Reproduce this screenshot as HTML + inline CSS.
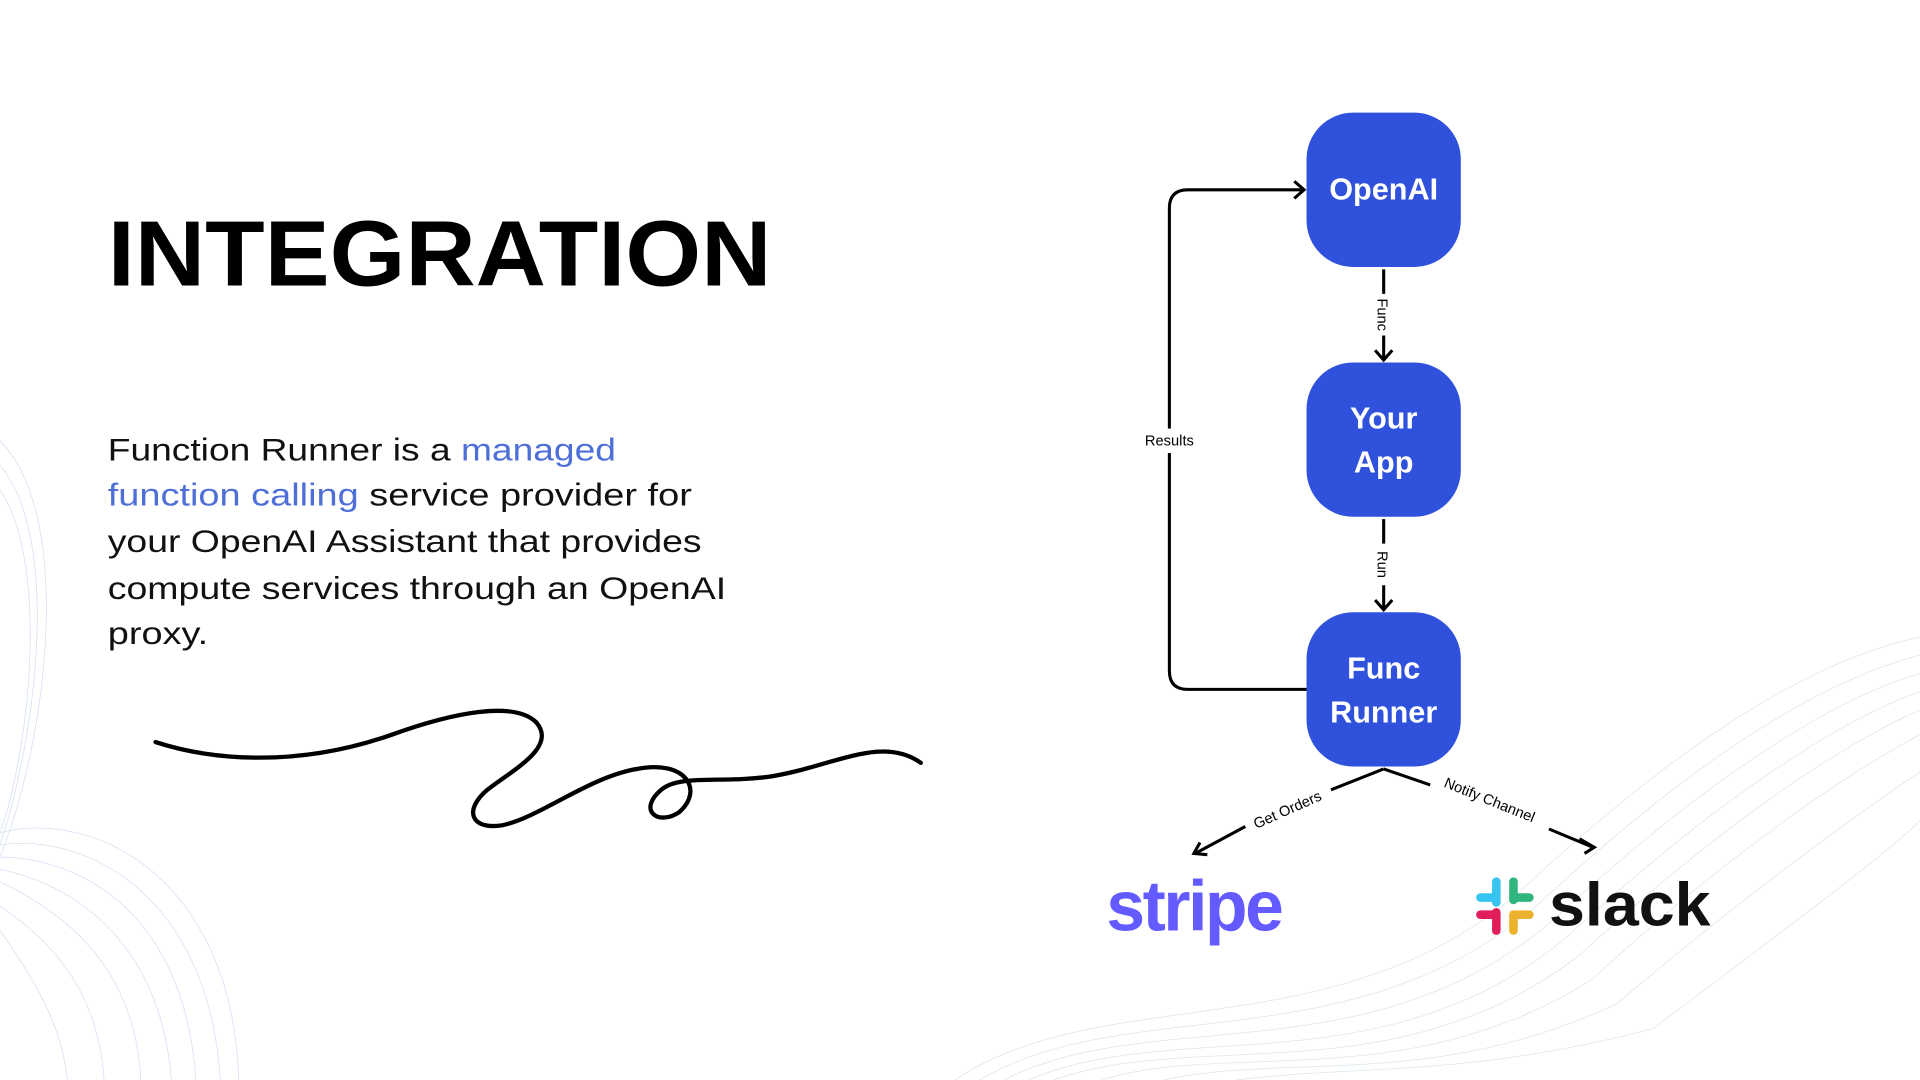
<!DOCTYPE html>
<html><head><meta charset="utf-8"><style>
html,body{margin:0;padding:0;background:#fff;}
svg{display:block;}
text{font-family:"Liberation Sans",sans-serif;}
</style></head><body>
<svg width="1920" height="1080" viewBox="0 0 1568 882" xmlns="http://www.w3.org/2000/svg">
<rect width="1568" height="882" fill="#fff"/>
<g fill="none" stroke="#c9d6ee" stroke-width="0.6" opacity="0.8">
  <path d="M0,360 C60,420 40,600 0,700"/>
  <path d="M0,380 C50,440 30,600 0,690"/>
  <path d="M0,400 C40,460 25,610 0,680"/>
  <path d="M0,680 C80,660 190,720 195,882"/>
  <path d="M0,690 C70,680 170,730 180,882"/>
  <path d="M0,700 C60,700 150,740 160,882"/>
  <path d="M0,710 C50,720 130,760 140,882"/>
  <path d="M0,720 C40,740 110,780 115,882"/>
  <path d="M0,740 C30,760 80,800 85,882"/>
  <path d="M0,760 C20,790 50,830 55,882"/>
</g>
<g fill="none" stroke="#cfe0e8" stroke-width="0.6" opacity="0.8">
  <path d="M780,882 C900,800 1100,860 1250,720 C1380,600 1480,540 1568,520"/>
  <path d="M800,882 C920,810 1110,870 1260,735 C1390,615 1490,555 1568,535"/>
  <path d="M820,882 C940,820 1120,880 1270,750 C1400,630 1500,570 1568,550"/>
  <path d="M840,882 C960,830 1130,890 1280,765 C1410,645 1510,585 1568,565"/>
  <path d="M860,882 C980,840 1140,895 1290,780 C1420,660 1520,600 1568,580"/>
  <path d="M900,882 C1000,850 1150,895 1300,800 C1430,680 1530,620 1568,600"/>
  <path d="M950,882 C1050,860 1170,890 1320,820 C1450,710 1540,650 1568,630"/>
  <path d="M1010,882 C1100,870 1200,880 1350,840 C1470,750 1550,690 1568,670"/>
</g>
<text x="88" y="233" font-size="76" font-weight="bold" fill="#000" textLength="542" lengthAdjust="spacingAndGlyphs">INTEGRATION</text>
<g font-size="26" fill="#111">
  <text x="88" y="376" textLength="415" lengthAdjust="spacingAndGlyphs">Function Runner is a <tspan fill="#4f6fd8">managed</tspan></text>
  <text x="88" y="413" textLength="477" lengthAdjust="spacingAndGlyphs"><tspan fill="#4f6fd8">function calling</tspan> service provider for</text>
  <text x="88" y="451" textLength="485" lengthAdjust="spacingAndGlyphs">your OpenAI Assistant that provides</text>
  <text x="88" y="489" textLength="505" lengthAdjust="spacingAndGlyphs">compute services through an OpenAI</text>
  <text x="88" y="526" textLength="82" lengthAdjust="spacingAndGlyphs">proxy.</text>
</g>
<path d="M127,606 C170,620 240,628 320,600 C370,582 420,572 438,590 C455,610 420,628 398,645 C378,662 385,678 410,674 C440,668 480,635 520,628 C560,620 575,645 555,663 C538,675 520,662 540,645 C555,632 590,640 630,634 C680,626 720,600 752,623" fill="none" stroke="#000" stroke-width="3.5" stroke-linecap="round"/>
<g fill="none" stroke="#000" stroke-width="2.5">
  <path d="M1067,563 L970,563 Q955,563 955,548 L955,170 Q955,155 970,155 L1064,155"/>
  <path d="M1057,148 L1065,155 L1057,162"/>
  <path d="M1130,220 L1130,240 M1130,274 L1130,294"/>
  <path d="M1123,286 L1130,294 L1137,286"/>
  <path d="M1130,424 L1130,444 M1130,478 L1130,498"/>
  <path d="M1123,490 L1130,498 L1137,490"/>
  <path d="M1130,628 L1087,645 M1017,675 L976,697"/>
  <path d="M980,688 L975,697 L986,698"/>
  <path d="M1130,628 L1168,641 M1265,677 L1301,692"/>
  <path d="M1290,685 L1302,692 L1294,697"/>
</g>
<rect x="930" y="350" width="50" height="20" fill="#fff"/>
<text x="955" y="364" font-size="12" text-anchor="middle" fill="#000">Results</text>
<text transform="translate(1125,257) rotate(90)" font-size="12" text-anchor="middle" fill="#000">Func</text>
<text transform="translate(1125,461) rotate(90)" font-size="12" text-anchor="middle" fill="#000">Run</text>
<text transform="translate(1053,665) rotate(-24)" font-size="12" text-anchor="middle" fill="#000">Get Orders</text>
<text transform="translate(1215,657) rotate(22)" font-size="12" text-anchor="middle" fill="#000">Notify Channel</text>
<g fill="#2f51db">
  <rect x="1067" y="92" width="126" height="126" rx="38"/>
  <rect x="1067" y="296" width="126" height="126" rx="38"/>
  <rect x="1067" y="500" width="126" height="126" rx="38"/>
</g>
<g fill="#fff" font-size="25" font-weight="bold" text-anchor="middle">
  <text x="1130" y="163">OpenAI</text>
  <text x="1130" y="350">Your</text>
  <text x="1130" y="386">App</text>
  <text x="1130" y="554">Func</text>
  <text x="1130" y="590">Runner</text>
</g>
<text x="975" y="760" font-size="58" font-weight="bold" fill="#635bff" text-anchor="middle" letter-spacing="-2" textLength="143" lengthAdjust="spacingAndGlyphs">stripe</text>
<g stroke-linecap="round" stroke-width="7">
  <line x1="1222" y1="720" x2="1222" y2="737" stroke="#36c5f0"/>
  <line x1="1209" y1="733" x2="1222" y2="733" stroke="#36c5f0"/>
  <line x1="1236" y1="720" x2="1236" y2="735" stroke="#2eb67d"/>
  <line x1="1236" y1="733" x2="1249" y2="733" stroke="#2eb67d"/>
  <line x1="1222" y1="745" x2="1222" y2="760" stroke="#e01e5a"/>
  <line x1="1209" y1="747" x2="1222" y2="747" stroke="#e01e5a"/>
  <line x1="1236" y1="747" x2="1249" y2="747" stroke="#ecb22e"/>
  <line x1="1236" y1="747" x2="1236" y2="760" stroke="#ecb22e"/>
</g>
<text x="1265" y="756" font-size="50" font-weight="bold" fill="#111" textLength="132" lengthAdjust="spacingAndGlyphs">slack</text>
</svg>
</body></html>
